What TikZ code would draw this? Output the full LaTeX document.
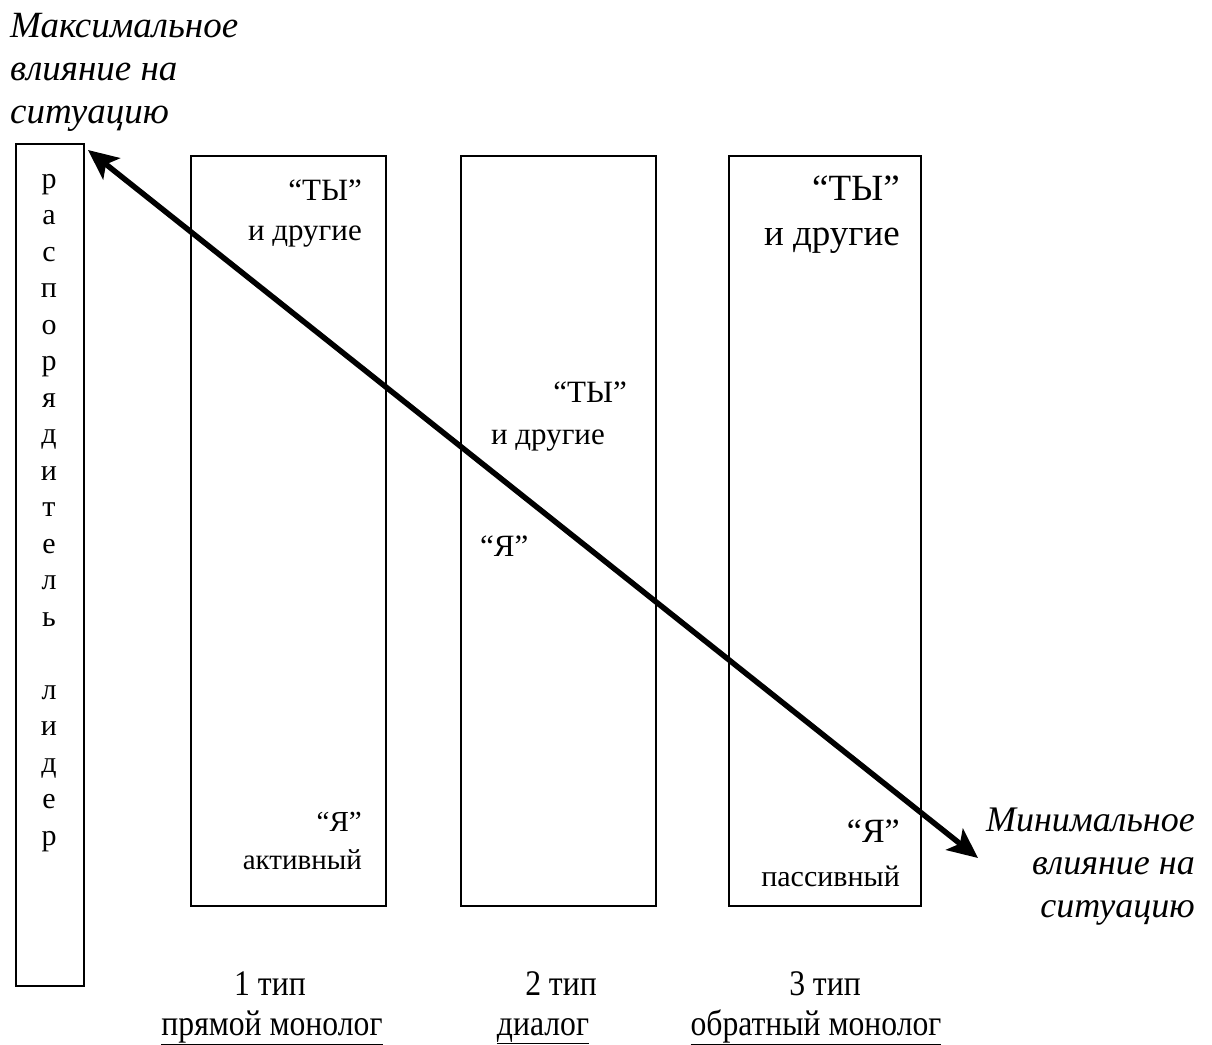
\documentclass[tikz,border=0pt]{standalone}
\usepackage{fontspec}
\setmainfont{Liberation Serif}
\newfontfamily\narrowserif[FakeStretch=0.88]{Liberation Serif}
\usetikzlibrary{arrows.meta,positioning}
\newcommand{\fs}[2]{\fontsize{#1}{#2}\selectfont}
\tikzset{
  panel/.style={draw, rectangle, line width=1.5pt, anchor=north west, inner sep=0pt},
  lbl/.style={inner sep=0pt, align=right},
  caption/.style={inner sep=0pt, anchor=base, font=\narrowserif\fs{36}{42}},
}

\begin{document}
\begin{tikzpicture}[x=1pt, y=-1pt]
    \useasboundingbox (0,0) rectangle (1212,1044);

    % Колонки
    \node (lead) [panel, minimum width=68pt, minimum height=842pt] at (15,143) {};
    \node (type1) [panel, minimum width=195pt, minimum height=750pt] at (190,155) {};
    \node (type2) [panel, minimum width=195pt, minimum height=750pt] at (460,155) {};
    \node (type3) [panel, minimum width=192pt, minimum height=750pt] at (728,155) {};

    % Вертикальная надпись
    \node (leadtext) [inner sep=0pt, anchor=north, align=center, font=\fs{30}{36.5}] at (49,174)
    {р\\а\\с\\п\\о\\р\\я\\д\\и\\т\\е\\л\\ь\\\mbox{}\\л\\и\\д\\е\\р};

    % Надписи в колонках
    \node (you1) [lbl, anchor=north east, font=\fs{31}{40}] at (362,180) {“ТЫ”\\и другие};
    \node (me1) [lbl, anchor=north east, font=\fs{29}{38}] at (362,812) {“Я”\\активный};

    \node (you2) [lbl, anchor=base east, font=\fs{31}{40}] at (627,402) {“ТЫ”};
    \node (others2) [lbl, anchor=base east, font=\fs{31}{40}] at (605,444) {и другие};
    \node (me2) [lbl, anchor=base west, font=\fs{31}{40}] at (480,556) {“Я”};

    \node (you3) [lbl, anchor=north east, font=\fs{37}{45}] at (900,176) {“ТЫ”\\и другие};
    \node (me3) [lbl, anchor=base east, font=\fs{34}{40}] at (900,842) {“Я”};
    \node (passive3) [lbl, anchor=base east, font=\fs{30}{34}] at (900,886) {пассивный};

    % Подписи влияния
    \node (maxinfl) [inner sep=0pt, anchor=north west, align=left, font=\itshape\fs{37}{43}] at (10,13)
    {Максимальное\\влияние на\\ситуацию};
    \node (mininfl) [inner sep=0pt, anchor=north east, align=right, font=\itshape\fs{36}{43}] at (1195,808)
    {Минимальное\\влияние на\\ситуацию};

    % Типы
    \node (cap1) [caption] at (270,995) {1 тип};
    \node (name1) [caption] at (272,1035) {\underline{прямой монолог}};
    \node (cap2) [caption] at (561,995) {2 тип};
    \node (name2) [caption] at (543,1035) {\underline{диалог}};
    \node (cap3) [caption] at (825,995) {3 тип};
    \node (name3) [caption] at (816,1035) {\underline{обратный монолог}};

    % Стрелка
    \coordinate (maxpt) at (88,150);
    \coordinate (minpt) at (978,858);
    \draw[{Stealth[length=30pt, width=27pt, inset=7pt]}-{Stealth[length=30pt, width=27pt, inset=7pt]}, line width=5.5pt] (maxpt) -- (minpt);
\end{tikzpicture}
\end{document}
